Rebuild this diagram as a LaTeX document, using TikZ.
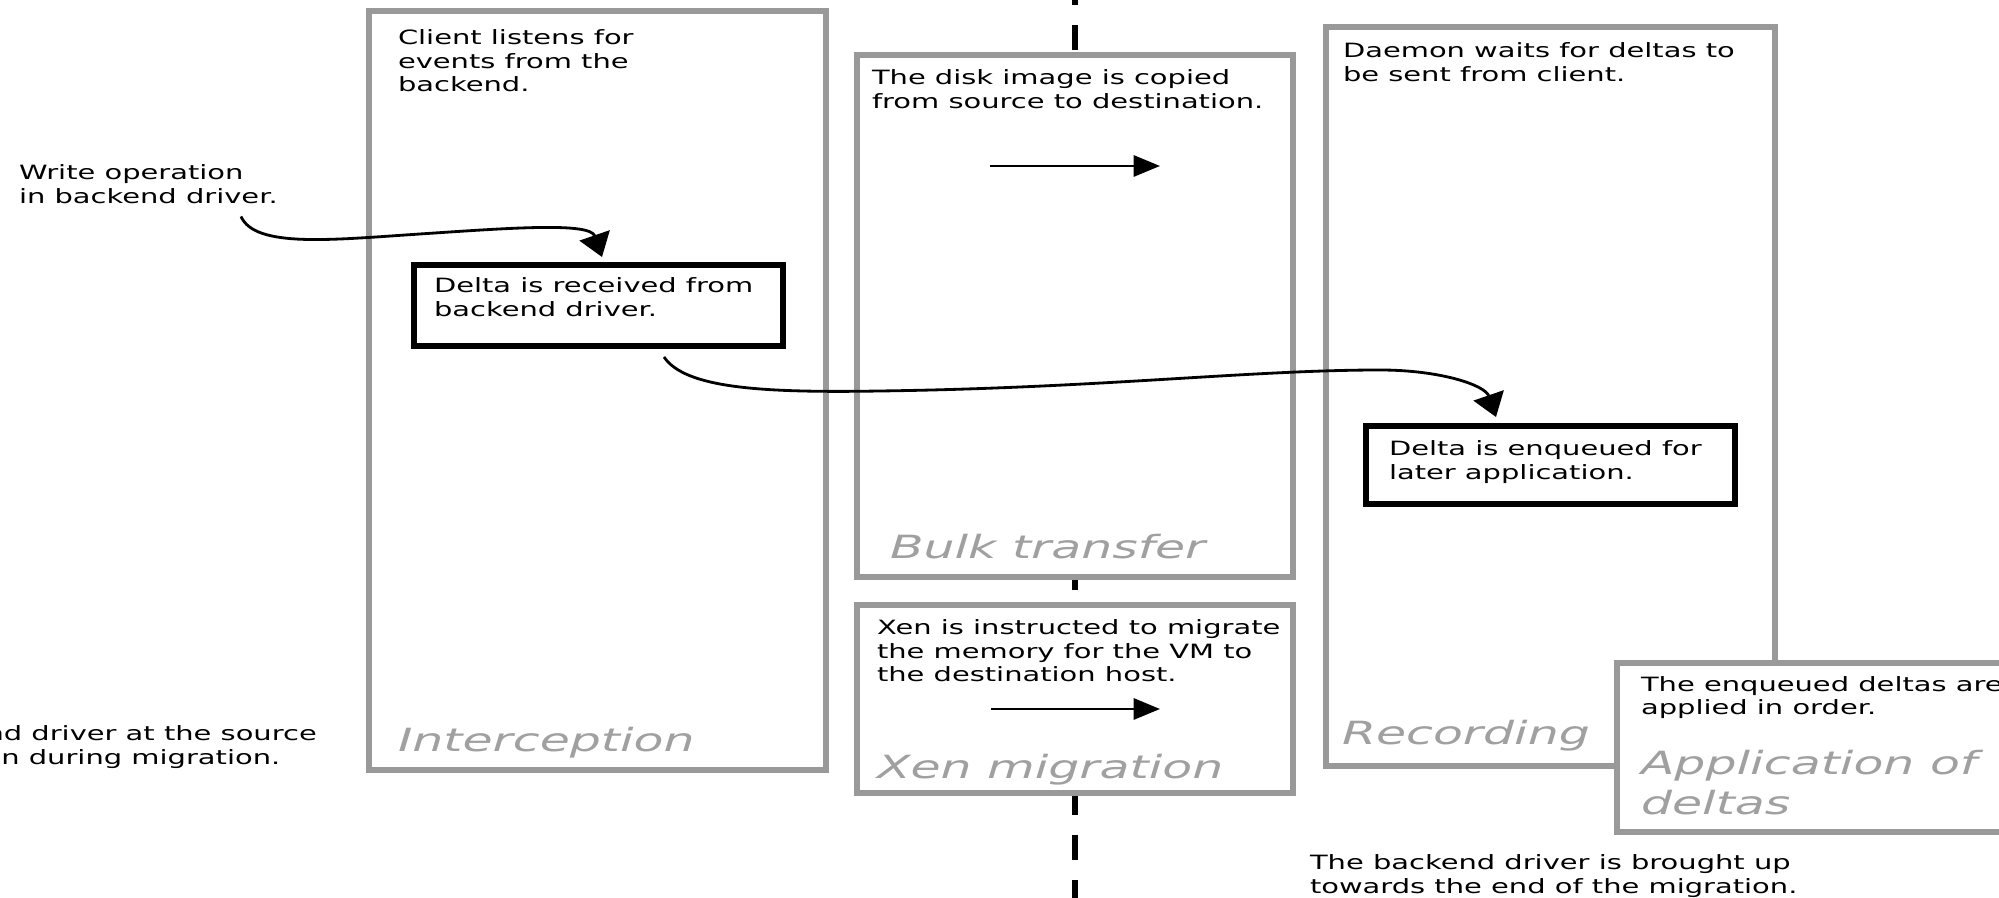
\documentclass[tikz,border=0pt]{standalone}
\usepackage{fontspec}
\setmainfont{DejaVu Sans}
\newfontfamily\bodyfont[FakeStretch=1.47]{DejaVu Sans}
\newfontfamily\labfont[FakeStretch=1.53]{DejaVu Sans}
\usetikzlibrary{arrows.meta,calc}
\definecolor{boxgray}{HTML}{999999}
\definecolor{labgray}{HTML}{A0A0A0}
\tikzset{
  gbox/.style={draw=boxgray, line width=1.5pt, fill=white, rectangle, inner sep=0pt, outer sep=0pt, anchor=north west},
  kbox/.style={draw=black, line width=1.6pt, fill=white, rectangle, inner sep=0pt, outer sep=0pt, anchor=north west},
  body/.style={anchor=base west, inner sep=0pt, outer sep=0pt, align=left, font=\bodyfont\fontsize{5.6pt}{6.69pt}\selectfont},
  tight/.style={anchor=base west, inner sep=0pt, outer sep=0pt, align=left, font=\bodyfont\fontsize{5.6pt}{3.85pt}\selectfont},
  lab/.style={anchor=base west, inner sep=0pt, outer sep=0pt, align=left, text=labgray, font=\labfont\itshape\fontsize{9.1pt}{11.5pt}\selectfont},
  curvarr/.style={draw=black, line width=0.8pt, -{Triangle[length=6.5pt,width=9pt]}},
  strarr/.style={draw=black, line width=0.8pt, -{Triangle[length=7.5pt,width=6pt]}},
  dashline/.style={draw=black, line width=1.6pt, dash pattern=on 7.11pt off 5.69pt}
}
\begin{document}
\begin{tikzpicture}[x=0.1mm, y=-0.1mm]
\useasboundingbox (0,0) rectangle (1999,898);
\clip (0,0) rectangle (1999,898);

% timeline
\coordinate (dtop) at (1075,-20);
\coordinate (dbot) at (1075,920);
\draw[dashline] (dtop) -- (dbot);

% phase boxes
\node[gbox, minimum width=45.7mm, minimum height=75.9mm] (ib) at (369,11) {};
\node[gbox, minimum width=43.6mm, minimum height=52.2mm] (bb) at (857,55) {};
\node[gbox, minimum width=43.6mm, minimum height=18.8mm] (xb) at (857,605) {};
\node[gbox, minimum width=44.9mm, minimum height=73.9mm] (rb) at (1326,27) {};
\node[gbox, minimum width=50mm, minimum height=16.9mm] (ab) at (1617,663) {};

% event boxes
\node[kbox, minimum width=36.9mm, minimum height=8.1mm] (dr) at (414,265) {};
\node[kbox, minimum width=36.9mm, minimum height=7.8mm] (de) at (1366,426) {};

% texts (anchored at the baseline of the last line)
\node[body] (tclient) at (398,92) {Client listens for\\events from the\\backend.};
\node[body] (wo) at (19,203.5) {Write operation\\in backend driver.};
\node[body] (tdr) at (434,316.5) {Delta is received from\\backend driver.};
\node[body] (tdisk) at (872,108.5) {The disk image is copied\\from source to destination.};
\node[body] (txen) at (877,682) {Xen is instructed to migrate\\the memory for the VM to\\the destination host.};
\node[body] (tdaemon) at (1343,81.5) {Daemon waits for deltas to\\be sent from client.};
\node[body] (tde) at (1389,479.5) {Delta is enqueued for\\later application.};
\node[tight] (tapp) at (1641,714.5) {The enqueued deltas are\\applied in order.};
\node[body] (tbup) at (1310,893.5) {The backend driver is brought up\\towards the end of the migration.};
\node[body] (tsrc) at (-163,764.5) {The backend driver at the source\\is shut down during migration.};

% labels
\node[lab] (lint) at (398,752) {Interception};
\node[lab] (lbulk) at (890,559) {Bulk transfer};
\node[lab] (lxen) at (877,779) {Xen migration};
\node[lab] (lrec) at (1342,745) {Recording};
\node[lab] (lapp) at (1641,815) {Application of\\deltas};

% straight arrows
\coordinate (ba1) at (990,166);
\coordinate (ba2) at (1160,166);
\draw[strarr] (ba1) -- (ba2);
\coordinate (xa1) at (991,709);
\coordinate (xa2) at (1160,709);
\draw[strarr] (xa1) -- (xa2);

% curved arrows
\draw[curvarr] ($(wo.base west)+(222,13)$) .. controls (255,248) and (330,240) .. (420,234)
   .. controls (510,228) and (590,222) .. ($(dr.north west)+(188,-8)$);
\draw[curvarr] ($(dr.south west)+(250,11)$) .. controls (685,388) and (760,393) .. (880,391)
   .. controls (1100,388) and (1250,370) .. (1380,370)
   .. controls (1440,370) and (1485,385) .. ($(de.north west)+(130,-9)$);
\end{tikzpicture}
\end{document}
